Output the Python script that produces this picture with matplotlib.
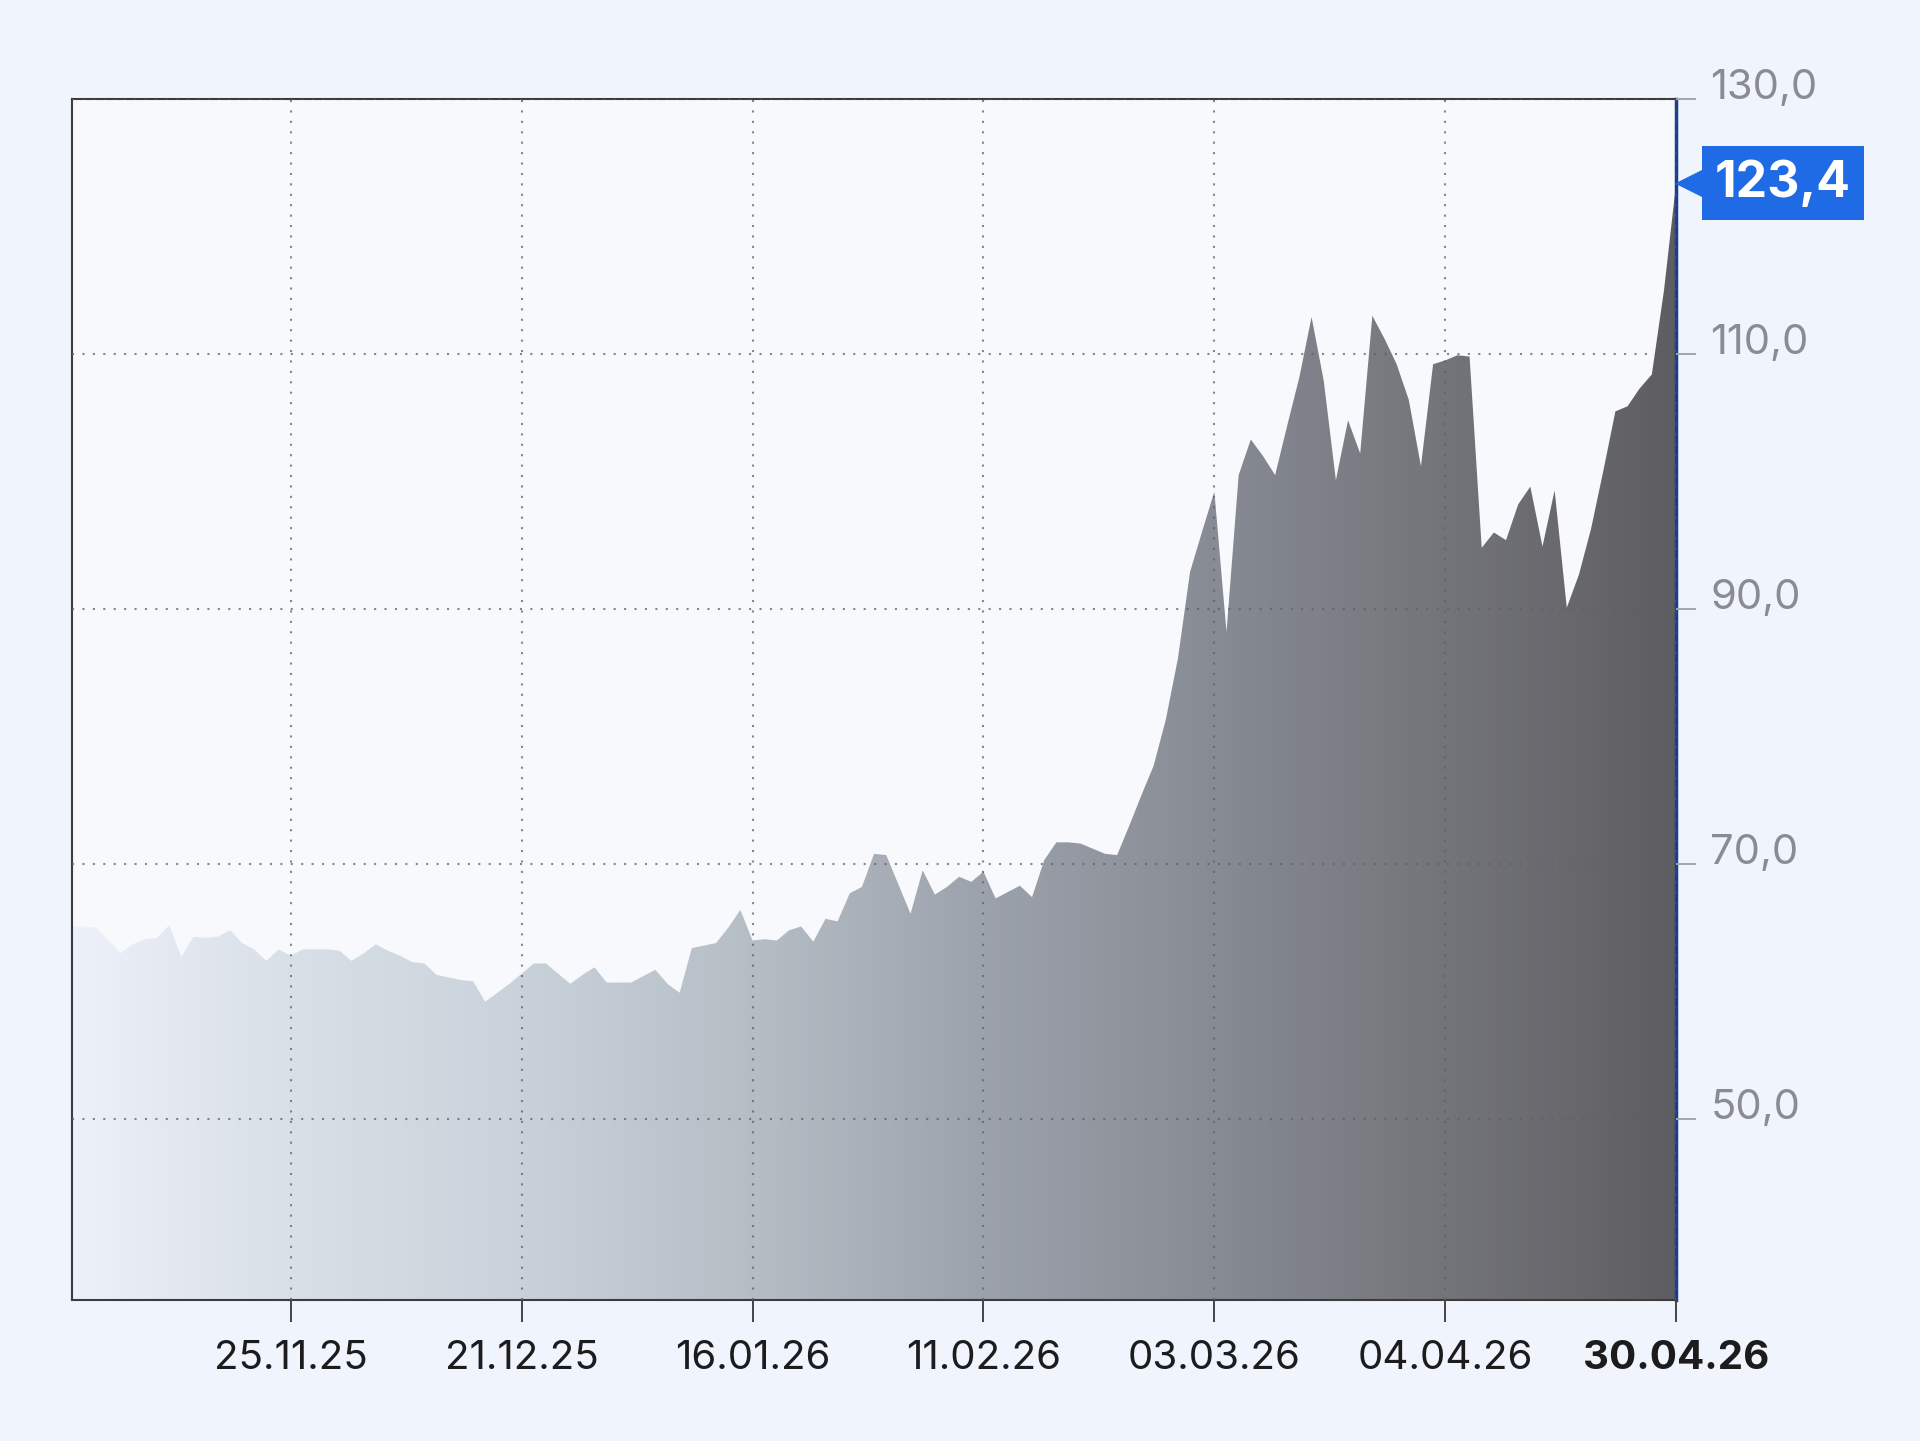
import matplotlib.pyplot as plt
import matplotlib.transforms as mtransforms
import numpy as np
from matplotlib.colors import LinearSegmentedColormap
from matplotlib.patches import Polygon

########################################################################################################################
# DATA
########################################################################################################################
prices = [65.1, 65.1, 65.0, 64.0, 63.0, 63.7, 64.1, 64.2, 65.2, 62.7,
          64.3, 64.2, 64.3, 64.8, 63.8, 63.3, 62.4, 63.3, 62.8, 63.3,
          63.3, 63.3, 63.2, 62.4, 63.0, 63.7, 63.2, 62.8, 62.3, 62.2,
          61.3, 61.1, 60.9, 60.8, 59.2, 59.9, 60.6, 61.4, 62.2, 62.2,
          61.4, 60.6, 61.3, 61.9, 60.7, 60.7, 60.7, 61.2, 61.7, 60.6,
          59.9, 63.4, 63.6, 63.8, 65.0, 66.4, 64.0, 64.1, 64.0, 64.8,
          65.1, 63.9, 65.7, 65.5, 67.7, 68.2, 70.8, 70.7, 68.4, 66.1,
          69.5, 67.6, 68.2, 69.0, 68.6, 69.4, 67.3, 67.8, 68.3, 67.4,
          70.3, 71.7, 71.7, 71.6, 71.2, 70.8, 70.7, 73.0, 75.4, 77.7,
          81.3, 86.1, 92.9, 96.1, 99.2, 88.2, 100.5, 103.3, 102.0, 100.5,
          104.4, 108.2, 112.9, 107.9, 100.1, 104.8, 102.2, 113.0, 111.2, 109.2,
          106.4, 101.2, 109.2, 109.5, 109.9, 109.8, 94.8, 96.0, 95.4, 98.2,
          99.6, 94.9, 99.3, 90.1, 92.7, 96.3, 100.8, 105.5, 105.9, 107.3,
          108.4, 115.0, 123.4]

date_ticks = [18, 37, 56, 75, 94, 113, 132]
date_labels = ["25.11.25", "21.12.25", "16.01.26", "11.02.26", "03.03.26", "04.04.26", "30.04.26"]

price_ticks = [50, 70, 90, 110, 130]
price_labels = ["50,0", "70,0", "90,0", "110,0", "130,0"]

last_price_label = "123,4"

Y_MIN, Y_MAX = 35.8, 130.0
BLUE = "#1f6ae5"

plt.rcParams['font.family'] = ['Inter', 'DejaVu Sans']


def main():
    fig = plt.figure(figsize=(19.2, 14.41), dpi=100)
    fig.patch.set_facecolor("#f0f4fc")
    ax = fig.add_axes([0.0375, 0.0978, 0.8355, 0.8335])
    ax.set_facecolor("#f7f9fd")

    x = np.arange(len(prices))
    y = np.array(prices)
    ax.set_xlim(x[0], x[-1])
    ax.set_ylim(Y_MIN, Y_MAX)

    # area under the price line, filled with a left-to-right gradient
    verts = np.vstack([np.column_stack([x, y]), [[x[-1], Y_MIN], [x[0], Y_MIN]]])
    area = Polygon(verts, closed=True, facecolor="none", edgecolor="none")
    ax.add_patch(area)
    cmap = LinearSegmentedColormap.from_list("fade", [
        (0.00, "#edf1f9"), (0.14, "#d8dfe7"), (0.28, "#c9d2da"), (0.43, "#b4bcc4"),
        (0.57, "#9ca2ab"), (0.72, "#868a93"), (0.86, "#737479"), (1.00, "#5e5e62")])
    grad = np.linspace(0, 1, 512).reshape(1, -1)
    im = ax.imshow(grad, cmap=cmap, aspect="auto", origin="lower",
                   extent=[x[0], x[-1], Y_MIN, Y_MAX], zorder=1)
    im.set_clip_path(area)

    # dotted grid on top of the area
    ax.set_axisbelow(False)
    ax.grid(True, linestyle=(0, (1, 4)), color="#5c6068", linewidth=1.5, alpha=0.75)

    # x axis
    ax.set_xticks(date_ticks)
    ax.set_xticklabels(date_labels)
    ax.tick_params(axis="x", direction="out", length=16, width=1.4, color="#444444",
                   labelsize=29, labelcolor="#1c1c1c", pad=13)
    ax.get_xticklabels()[-1].set_fontweight("bold")
    ax.xaxis.get_major_ticks()[-1].tick1line.set_color("#1d3f8a")

    # y axis on the right, labels sit on top of the tick
    ax.yaxis.tick_right()
    ax.set_yticks(price_ticks)
    ax.set_yticklabels([""] * len(price_ticks))
    ax.tick_params(axis="y", direction="out", length=14.5, width=1.4, color="#a3a7ad")
    label_trans = mtransforms.offset_copy(ax.get_yaxis_transform(), fig=fig, x=34, y=0, units="dots")
    for val, lab in zip(price_ticks, price_labels):
        ax.text(1, val, lab, transform=label_trans, ha="left", va="baseline",
                fontsize=30, color="#8a8c91", clip_on=False)

    for side in ["left", "top", "bottom"]:
        ax.spines[side].set_color("#3c3c3c")
        ax.spines[side].set_linewidth(1.5)
    ax.spines["right"].set_color("#1d3f8a")
    ax.spines["right"].set_linewidth(2.5)

    # last price badge
    marker_trans = mtransforms.offset_copy(ax.get_yaxis_transform(), fig=fig, x=13, y=0, units="dots")
    ax.plot([1], [prices[-1]], marker="<", markersize=19, color=BLUE, transform=marker_trans,
            clip_on=False, zorder=5)
    badge_trans = mtransforms.offset_copy(ax.get_yaxis_transform(), fig=fig, x=39, y=0, units="dots")
    ax.text(1, prices[-1], last_price_label, transform=badge_trans, ha="left", va="center",
            fontsize=36, fontweight="bold", color="white", clip_on=False, zorder=6,
            bbox=dict(boxstyle="square,pad=0.26", facecolor=BLUE, edgecolor="none"))

    plt.savefig("out.png", dpi=100, facecolor=fig.get_facecolor())


if __name__ == "__main__":
    main()
